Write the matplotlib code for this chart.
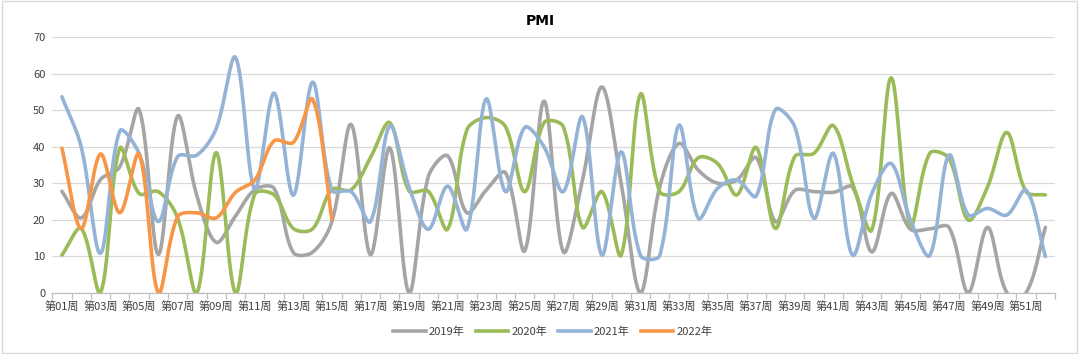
import numpy as np
import matplotlib
matplotlib.use("Agg")
import matplotlib.pyplot as plt
from matplotlib.patches import Rectangle
from matplotlib.lines import Line2D

plt.rcParams['font.family'] = ['Noto Sans CJK SC', 'DejaVu Sans']

weeks = [f"第{i:02d}周" for i in range(1, 53)]

y2019 = [27.8, 20.5, 31, 34.5, 50.2, 10.5, 48.4, 26.5, 13.8, 21, 28.2, 28.6, 11, 11.1, 19.5,
         46.1, 10.4, 39.7, 0, 31.8, 37.5, 21.9, 28.1, 32.9, 11.5, 52.5, 11.2, 31, 56.4, 30,
         0, 29, 40.9, 33.6, 30, 30.9, 37, 19.5, 28, 27.7, 27.5, 28.9, 11.2, 27.2, 17.4,
         17.5, 17.9, 0, 17.9, 0, 0, 17.9]
y2020 = [10.3, 17.6, 0, 39.6, 27.2, 27.7, 20.5, 0, 38.4, 0, 27, 26.8, 17.6, 17.5, 28.3,
         28.2, 37, 46.6, 27.9, 27.8, 17.4, 44.6, 48, 45.5, 27.7, 46.6, 45.5, 17.9, 27.7, 10.3,
         54.4, 27.7, 27.7, 37, 35.4, 26.8, 39.8, 17.6, 37.3, 38.2, 45.8, 30, 17.2, 58.9, 18.5,
         38.2, 36.8, 19.9, 29, 43.9, 27.7, 26.8]
y2021 = [53.7, 40, 10.8, 44.3, 38.2, 19.5, 37.3, 37.7, 45, 64.5, 28.4, 54.7, 26.7, 57.7, 28.1,
         27.7, 19.5, 45.7, 29, 17.4, 29.2, 17.4, 53.1, 27.7, 45.3, 40, 27.7, 48.2, 10.3, 38.6,
         10.2, 10.2, 45.9, 20.4, 28.6, 30.9, 26.5, 50.2, 45.5, 20.4, 38.2, 10.3, 27.2, 35.4, 19.9,
         10.2, 37.7, 21.3, 23.1, 21.3, 28.1, 9.9]
y2022 = [39.6, 17.6, 38, 21.9, 38, 0, 20.8, 21.9, 20.5, 27.5, 30.9, 41.6, 41.2, 53, 20.1]

series = [("2019年", y2019, "#A5A5A5"),
          ("2020年", y2020, "#9BBB59"),
          ("2021年", y2021, "#95B3D7"),
          ("2022年", y2022, "#F79646")]

# pixel scale used for the chord-weighted smoothing (screen-space like Excel)
SX, SY = 19.28, 3.65


def smooth(xs, ys, n=30):
    xs = np.asarray(xs, float) * SX
    ys = np.asarray(ys, float) * SY
    px = np.concatenate([[xs[0]], xs, [xs[-1]]])
    py = np.concatenate([[ys[0]], ys, [ys[-1]]])
    outx, outy = [], []
    t = np.linspace(0, 1, n, endpoint=False)
    for i in range(1, len(px) - 2):
        x0, x1, x2, x3 = px[i - 1], px[i], px[i + 1], px[i + 2]
        y0, y1, y2, y3 = py[i - 1], py[i], py[i + 1], py[i + 2]
        d01 = np.hypot(x1 - x0, y1 - y0)
        d12 = np.hypot(x2 - x1, y2 - y1)
        d23 = np.hypot(x3 - x2, y3 - y2)
        f1 = 2 * d12 / (d01 + d12) if d01 + d12 > 0 else 1
        f2 = 2 * d12 / (d12 + d23) if d12 + d23 > 0 else 1
        cx1, cy1 = x1 + (x2 - x0) / 6 * f1, y1 + (y2 - y0) / 6 * f1
        cx2, cy2 = x2 - (x3 - x1) / 6 * f2, y2 - (y3 - y1) / 6 * f2
        b0 = (1 - t) ** 3
        b1 = 3 * (1 - t) ** 2 * t
        b2 = 3 * (1 - t) * t ** 2
        b3 = t ** 3
        outx.append(b0 * x1 + b1 * cx1 + b2 * cx2 + b3 * x2)
        outy.append(b0 * y1 + b1 * cy1 + b2 * cy2 + b3 * y2)
    outx.append([xs[-1]])
    outy.append([ys[-1]])
    return np.concatenate(outx) / SX, np.concatenate(outy) / SY


fig = plt.figure(figsize=(10.8, 3.54), dpi=100)
ax = fig.add_axes([0.0484, 0.1732, 0.9285, 0.7214])

handles = []
for name, vals, col in series:
    x = np.arange(1, len(vals) + 1)
    sx, sy = smooth(x, vals)
    ax.plot(sx, sy, color=col, lw=2.6, solid_capstyle='round', solid_joinstyle='round')
    handles.append(Line2D([0], [0], color=col, lw=2.6, label=name))

ax.set_xlim(0.5, 52.5)
ax.set_ylim(0, 70)
ax.set_yticks(np.arange(0, 71, 10))
ax.grid(axis='y', color='#D9D9D9', lw=0.9)
ax.set_axisbelow(True)
for s in ['top', 'right', 'left']:
    ax.spines[s].set_visible(False)
ax.spines['bottom'].set_color('#BFBFBF')
ax.spines['bottom'].set_linewidth(0.9)

major = np.arange(1, 53)
ax.set_xticks(major)
ax.set_xticklabels([w if i % 2 == 0 else "" for i, w in enumerate(weeks)])
ax.set_xticks(np.arange(0.5, 53, 1), minor=True)
ax.tick_params(axis='x', which='major', length=0, pad=6, labelsize=8, labelcolor='#404040')
ax.tick_params(axis='x', which='minor', length=4, color='#BFBFBF', width=0.9)
ax.tick_params(axis='y', length=0, pad=5, labelsize=8, labelcolor='#404040')

fig.text(0.5, 0.941, "PMI", ha='center', va='center', fontsize=10, fontweight='bold',
         family=['DejaVu Sans'], color='#000000')

fig.legend(handles=handles, loc='center', bbox_to_anchor=(0.512, 0.063), ncol=4,
           frameon=False, fontsize=8, handlelength=2.9, handletextpad=0.3,
           columnspacing=1.0, labelcolor='#404040')

fig.patches.append(Rectangle((0.002, 0.004), 0.995, 0.992, transform=fig.transFigure,
                             fill=False, edgecolor='#D9D9D9', lw=1.0))

fig.savefig("out.png", dpi=100)
